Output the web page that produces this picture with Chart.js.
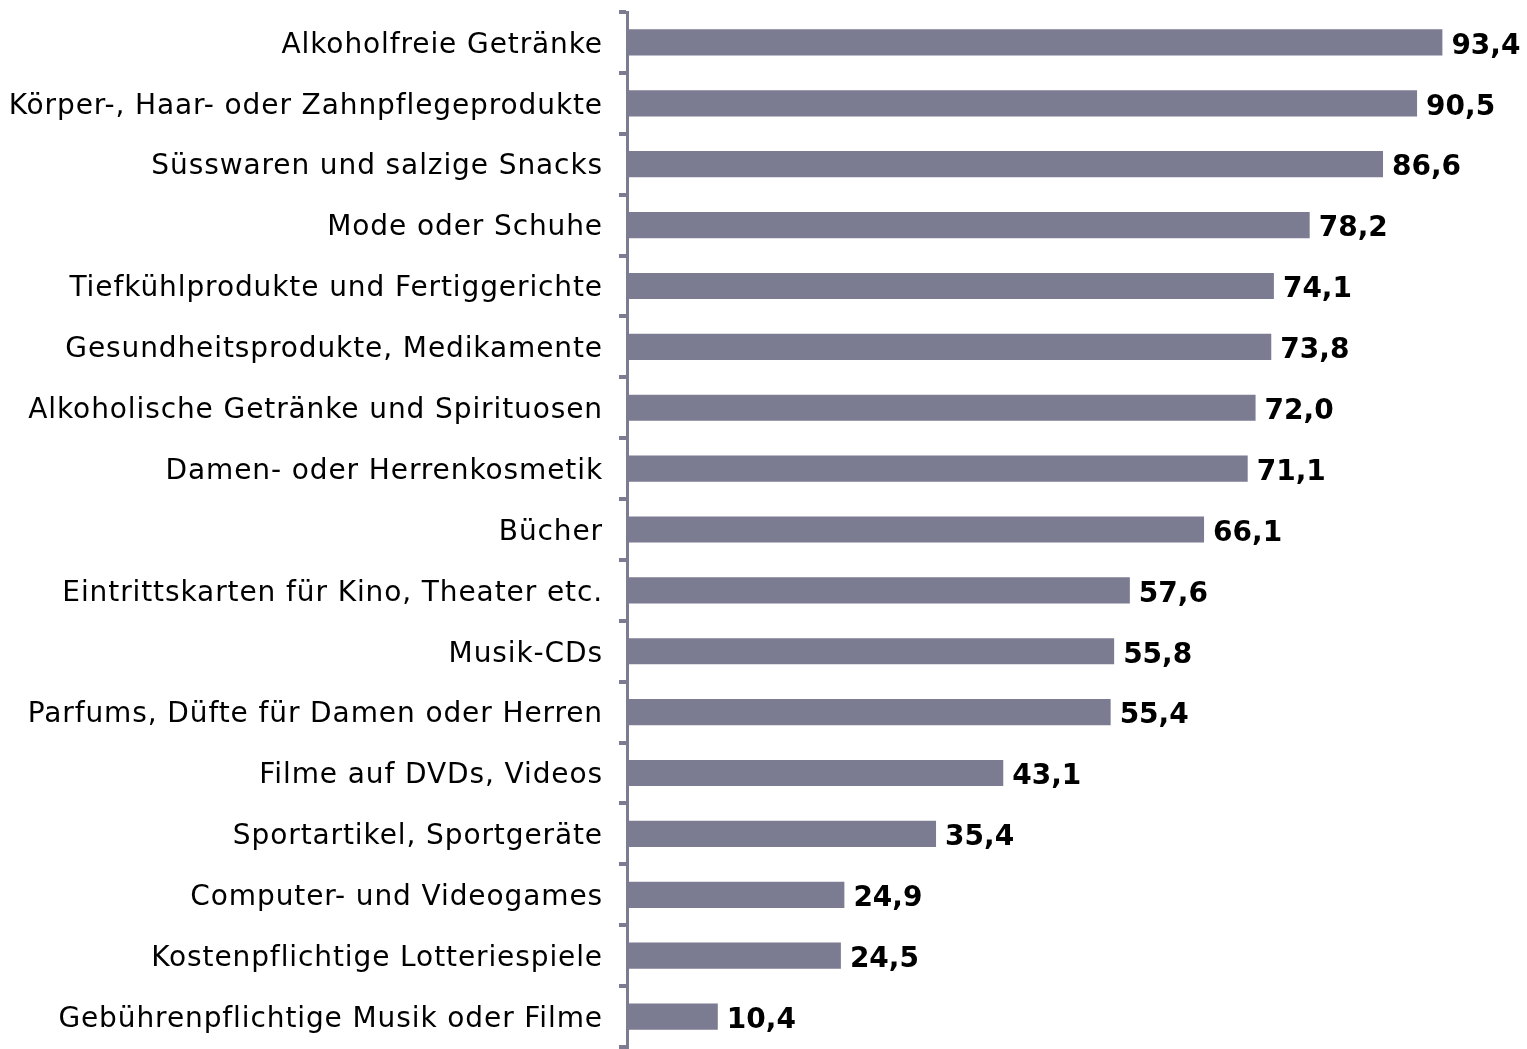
<!DOCTYPE html>
<html>
<head>
<meta charset="utf-8">
<script src="https://cdn.jsdelivr.net/npm/chart.js@4"></script>
<style>
  body { margin: 0; background: #fff; }
</style>
</head>
<body>
<canvas id="barChart" width="1527" height="1049"></canvas>
<script>
const categories = [
    "Alkoholfreie Getränke",
    "Körper-, Haar- oder Zahnpflegeprodukte",
    "Süsswaren und salzige Snacks",
    "Mode oder Schuhe",
    "Tiefkühlprodukte und Fertiggerichte",
    "Gesundheitsprodukte, Medikamente",
    "Alkoholische Getränke und Spirituosen",
    "Damen- oder Herrenkosmetik",
    "Bücher",
    "Eintrittskarten für Kino, Theater etc.",
    "Musik-CDs",
    "Parfums, Düfte für Damen oder Herren",
    "Filme auf DVDs, Videos",
    "Sportartikel, Sportgeräte",
    "Computer- und Videogames",
    "Kostenpflichtige Lotteriespiele",
    "Gebührenpflichtige Musik oder Filme"
];
const values = [93.4, 90.5, 86.6, 78.2, 74.1, 73.8, 72.0, 71.1, 66.1, 57.6, 55.8, 55.4, 43.1, 35.4, 24.9, 24.5, 10.4];

const barColor = "#7b7b91";

// wider tracking for the category labels
const spacing = {
    id: "spacing",
    beforeDraw(chart) { chart.ctx.letterSpacing = "0.9px"; },
    afterDraw(chart) { chart.ctx.letterSpacing = "0px"; }
};

// value labels at the end of each bar
const valueLabels = {
    id: "valueLabels",
    afterDatasetsDraw(chart) {
        const ctx = chart.ctx;
        const meta = chart.getDatasetMeta(0);
        ctx.save();
        ctx.letterSpacing = "0px";
        ctx.font = "bold 28px 'DejaVu Sans'";
        ctx.fillStyle = "#000";
        ctx.textAlign = "left";
        ctx.textBaseline = "middle";
        meta.data.forEach((bar, i) => {
            ctx.fillText(values[i].toFixed(1).replace(".", ","), bar.x + 9, bar.y + 4);
        });
        ctx.restore();
    }
};

new Chart(document.getElementById("barChart"), {
    type: "bar",
    data: {
        labels: categories,
        datasets: [{
            data: values,
            backgroundColor: barColor,
            barPercentage: 0.43,
            categoryPercentage: 1.0
        }]
    },
    options: {
        indexAxis: "y",
        responsive: false,
        animation: false,
        layout: {
            padding: { top: 12, bottom: 2, right: 27, left: 0 }
        },
        plugins: {
            legend: { display: false },
            tooltip: { enabled: false }
        },
        scales: {
            x: {
                display: false,
                min: 0,
                max: 100
            },
            y: {
                afterFit: scale => {
                    scale.width = 627;
                    scale.paddingTop = 0;
                    scale.paddingBottom = 0;
                },
                border: { display: true, color: barColor, width: 3 },
                grid: {
                    offset: true,
                    drawOnChartArea: false,
                    drawTicks: true,
                    tickLength: 8,
                    color: barColor,
                    lineWidth: 4
                },
                ticks: {
                    color: "#000",
                    padding: 16,
                    labelOffset: 3,
                    font: { family: "'DejaVu Sans'", size: 28 }
                }
            }
        }
    },
    plugins: [spacing, valueLabels]
});
</script>
</body>
</html>
